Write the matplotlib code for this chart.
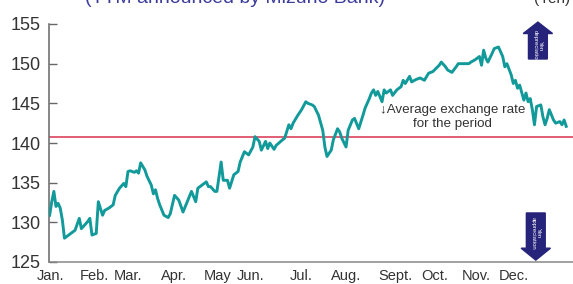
import matplotlib
matplotlib.use('Agg')
import matplotlib.pyplot as plt
from matplotlib.patches import FancyArrow

# trading-day index through the year and USD/JPY TTM (yen)
day = [0, 1, 2, 3, 4, 5, 6, 7, 10, 12, 14, 15, 18, 19, 20, 22, 23, 25, 26, 28,
       30, 31, 33, 35, 36, 37, 38, 40, 41, 42, 43, 45, 46, 48, 49, 50, 51, 52, 54, 56,
       57, 59, 61, 63, 67, 69, 70, 74, 75, 76, 78, 79, 81, 82, 84, 85, 87, 89, 90, 92,
       94, 96, 97, 99, 100, 102, 103, 104, 106, 107, 110, 111, 113, 114, 115, 117, 119, 121, 122, 124,
       125, 127, 129, 130, 131, 133, 134, 136, 137, 138, 140, 141, 143, 144, 146, 148, 149, 151, 152, 153,
       154, 155, 157, 158, 159, 161, 162, 164, 166, 167, 168, 170, 171, 173, 175, 177, 179, 181, 184, 185,
       187, 188, 190, 192, 193, 195, 198, 199, 201, 203, 204, 205, 206, 207, 209, 210, 212, 213, 214, 215,
       216, 218, 219, 220, 221, 222, 224, 225, 226, 227, 228, 229, 230, 232, 233, 234, 235, 236, 238, 239,
       241, 242, 243, 244]
rate = [130.9, 132.6, 133.9, 132.0, 132.4, 131.8, 130.3, 128.0, 128.6, 129.0, 130.5, 129.2, 130.1, 130.5, 128.4, 128.6, 132.6, 130.9, 131.5, 131.8,
        132.2, 133.4, 134.3, 134.9, 134.5, 136.4, 136.5, 136.3, 136.5, 136.2, 137.5, 136.6, 135.8, 134.7, 133.6, 134.1, 133.0, 132.2, 130.9, 130.6,
        131.1, 133.4, 132.8, 131.3, 133.9, 132.6, 134.3, 135.1, 134.5, 134.5, 133.9, 133.9, 137.6, 135.3, 135.3, 134.3, 136.0, 136.4, 137.6, 138.9,
        138.5, 139.5, 140.8, 140.2, 139.1, 140.2, 139.3, 140.0, 139.2, 139.7, 140.4, 140.6, 142.3, 141.8, 142.5, 143.4, 144.2, 145.2, 145.0, 144.8,
        144.6, 143.5, 141.6, 139.5, 138.3, 139.1, 140.4, 141.8, 141.4, 140.6, 139.5, 141.6, 142.9, 143.1, 141.8, 143.5, 144.4, 145.6, 146.3, 146.7,
        146.0, 146.5, 145.2, 146.7, 146.3, 146.7, 146.0, 146.7, 147.1, 147.9, 147.5, 148.4, 147.7, 148.0, 148.2, 147.9, 148.8, 149.0, 149.8, 150.2,
        149.6, 149.2, 148.9, 149.6, 150.0, 150.0, 150.0, 150.2, 150.5, 150.9, 149.8, 151.7, 150.7, 150.2, 151.3, 151.9, 152.1, 151.5, 150.9, 149.6,
        150.0, 148.6, 147.5, 147.9, 146.9, 147.3, 145.4, 146.3, 145.2, 145.6, 144.2, 142.3, 144.6, 144.8, 143.3, 142.3, 143.1, 144.2, 142.9, 142.5,
        142.7, 142.3, 142.9, 142.1]

avg_rate = 140.7

month_pos = [0.5, 21.2, 36.8, 58.5, 79.2, 94.8, 118.9, 140.1, 163.2, 182.1, 201.4, 219.3]
month_labels = ['Jan.', 'Feb.', 'Mar.', 'Apr.', 'May', 'Jun.', 'Jul.', 'Aug.', 'Sept.', 'Oct.', 'Nov.', 'Dec.']

plt.rcParams['font.family'] = ['Liberation Sans', 'DejaVu Sans']

fig = plt.figure(figsize=(5.73, 2.84), dpi=100)
ax = fig.add_axes([49 / 573, 22 / 284, 524 / 573, 238 / 284])

teal = '#12999a'
navy = '#26237a'

ax.plot(day, rate, color=teal, linewidth=2.1, solid_joinstyle='round', zorder=3)
ax.axhline(avg_rate, color='#d8324e', linewidth=1.1, zorder=2)

ax.set_xlim(-0.3, 247.2)
ax.set_ylim(125, 155)
ax.set_yticks([125, 130, 135, 140, 145, 150, 155])
ax.set_xticks(month_pos)
ax.set_xticklabels(month_labels)

for s in ['top', 'right']:
    ax.spines[s].set_visible(False)
ax.spines['left'].set_color('#666666')
ax.spines['bottom'].set_color('#888888')
ax.spines['left'].set_linewidth(1.1)
ax.spines['bottom'].set_linewidth(1.1)

ax.tick_params(axis='y', direction='in', length=6, width=1.0, color='#666666',
               labelsize=13, labelcolor='#333333', pad=6)
ax.tick_params(axis='x', length=0, labelsize=10.5, labelcolor='#333333', pad=5)

# annotation for the average line
ax.text(0.77, 0.61, '\u2193Average exchange rate\nfor the period', transform=ax.transAxes,
        ha='center', va='center', fontsize=9.6, color='#333333',
        linespacing=1.25, zorder=4)

# yen depreciation / appreciation arrows
ax.add_patch(FancyArrow(0.933, 0.853, 0, 0.155, width=0.036, head_width=0.056,
                        head_length=0.048, length_includes_head=True,
                        transform=ax.transAxes, color=navy, clip_on=False, zorder=5))
ax.text(0.933, 0.905, 'Yen\ndepreciation', transform=ax.transAxes, rotation=-90,
        ha='center', va='center', fontsize=4.3, color='white',
        linespacing=0.95, zorder=6)

ax.add_patch(FancyArrow(0.929, 0.206, 0, -0.198, width=0.036, head_width=0.056,
                        head_length=0.05, length_includes_head=True,
                        transform=ax.transAxes, color=navy, clip_on=False, zorder=5))
ax.text(0.929, 0.12, 'Yen\nappreciation', transform=ax.transAxes, rotation=-90,
        ha='center', va='center', fontsize=4.3, color='white',
        linespacing=0.95, zorder=6)

# header text, cut off by the top edge as in the source
fig.text(385 / 573, 1.005, '(TTM announced by Mizuho Bank)', ha='right', va='center',
         fontsize=14, color='#3b3c9c')
fig.text(0.995, 1.005, '(Yen)', ha='right', va='center', fontsize=11, color='#333333')

fig.savefig('out.png', dpi=100)
